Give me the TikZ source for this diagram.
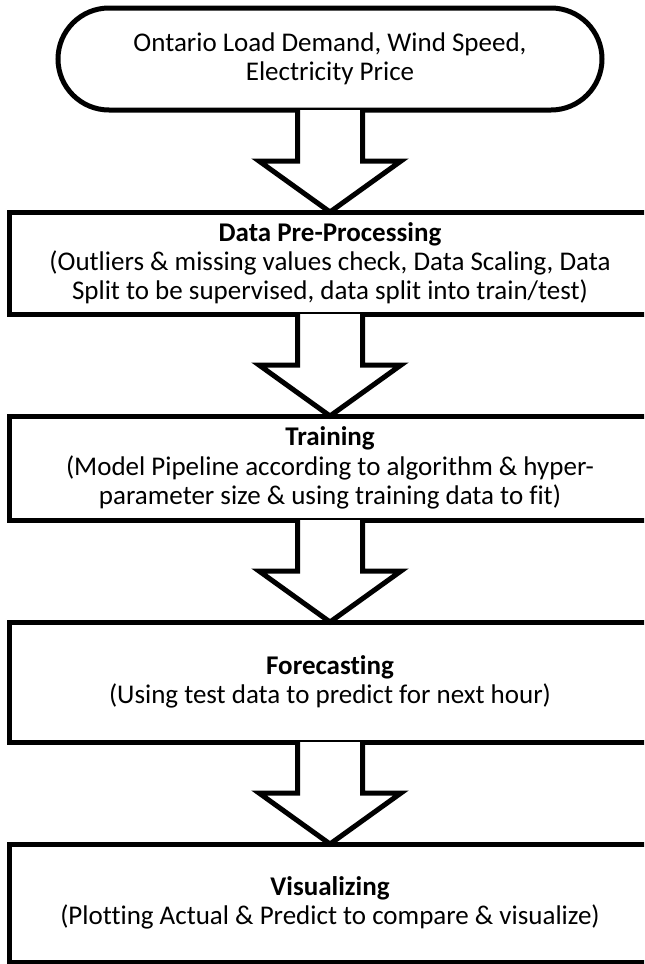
\documentclass[tikz,border=0pt]{standalone}
\usepackage{fontspec}
\setmainfont{Carlito}[Ligatures={NoCommon}]
\usetikzlibrary{positioning}

\begin{document}
\begin{tikzpicture}[node distance=51pt, line width=2.5pt,
    every node/.style={outer sep=0pt, inner sep=0pt, align=center, font=\fontsize{13.5pt}{14.6pt}\selectfont},
    startbox/.style={draw, rounded corners=25.5pt, minimum width=272pt, minimum height=51pt},
    stepbox/.style={minimum width=321pt},
    bigarrow/.style={fill=white}]
  \path[use as bounding box, clip] (0,0) rectangle (322pt,-482pt);
  \node[startbox] (input) at (165pt,-29.5pt) {Ontario Load Demand, Wind Speed,\\Electricity Price};
  \node[stepbox, minimum height=51pt, below=of input] (prep) {\textbf{Data Pre-Processing}\\(Outliers \& missing values check, Data Scaling, Data\\Split to be supervised, data split into train/test)};
  \node[stepbox, minimum height=52pt, below=of prep] (train) {\textbf{Training}\\(Model Pipeline according to algorithm \& hyper-\\parameter size \& using training data to fit)};
  \node[stepbox, minimum height=60pt, below=of train] (fcst) {\textbf{Forecasting}\\(Using test data to predict for next hour)};
  \node[stepbox, minimum height=59pt, below=of fcst] (vis) {\textbf{Visualizing}\\(Plotting Actual \& Predict to compare \& visualize)};
  % step frames run on past the right edge of the page
  \foreach \n in {prep, train, fcst, vis}
    \draw ([xshift=20pt]\n.north east) -- (\n.north west) -- (\n.south west) -- ([xshift=20pt]\n.south east);
  % hollow block arrows between the steps
  \foreach \a/\b in {input/prep, prep/train, train/fcst, fcst/vis}
    \draw[bigarrow] ([xshift=-16.25pt]\a.south) -- ([xshift=-16.25pt, yshift=25.5pt]\b.north)
      -- ([xshift=-35.5pt, yshift=25.5pt]\b.north) -- (\b.north)
      -- ([xshift=35.5pt, yshift=25.5pt]\b.north) -- ([xshift=16.25pt, yshift=25.5pt]\b.north)
      -- ([xshift=16.25pt]\a.south);
\end{tikzpicture}
\end{document}
